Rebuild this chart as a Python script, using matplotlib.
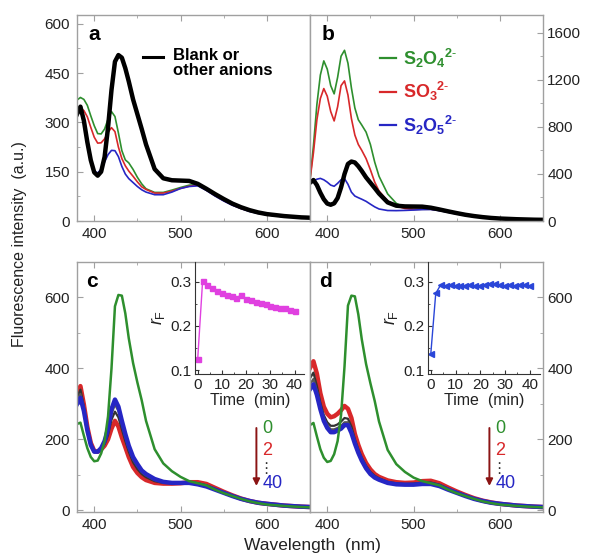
import numpy as np
import matplotlib
matplotlib.use('Agg')
import matplotlib.pyplot as plt
from matplotlib.ticker import MultipleLocator

plt.rcParams['font.family'] = ['Liberation Sans', 'DejaVu Sans']
plt.rcParams['mathtext.fontset'] = 'custom'
plt.rcParams['mathtext.rm'] = 'Liberation Sans'
plt.rcParams['mathtext.it'] = 'Liberation Sans:italic'
plt.rcParams['mathtext.bf'] = 'Liberation Sans:bold'

# longitudes de onda (nm) comunes a todos los espectros
wl = [380, 384, 388, 392, 396, 400, 404, 408, 412, 416, 420, 424, 428, 432, 436, 440,
      445, 450, 455, 460, 470, 480, 490, 500, 510, 520, 530, 540, 550, 560, 570, 580,
      590, 600, 620, 640, 650]

# panel a / b : blanco (otros aniones)
blanco = [325, 348, 305, 240, 185, 148, 138, 150, 195, 285, 399, 485, 505, 497, 465, 425,
          370, 325, 280, 233, 158, 130, 124, 123, 122, 113, 98, 82, 67, 53, 42, 33,
          26, 21, 15, 11, 10]
# panel a
verde_a = [368, 376, 370, 352, 320, 290, 266, 265, 280, 310, 333, 318, 268, 214, 186, 177,
           157, 133, 113, 98, 87, 87, 94, 102, 109, 111, 95, 78, 63, 50, 39, 30,
           24, 19, 13, 10, 9]
rojo_a = [338, 343, 336, 317, 285, 255, 237, 238, 250, 270, 284, 272, 225, 190, 168, 152,
          136, 119, 104, 96, 85, 85, 91, 99, 106, 109, 94, 77, 62, 49, 38, 30,
          24, 19, 13, 10, 9]
azul_a = [330, 338, 300, 235, 185, 152, 146, 158, 180, 202, 215, 214, 196, 166, 143, 129,
          117, 105, 95, 88, 80, 80, 88, 99, 105, 107, 93, 76, 61, 48, 38, 29,
          23, 19, 13, 10, 9]
# panel b
verde_b = [348, 640, 990, 1240, 1360, 1290, 1150, 1080, 1220, 1400, 1450, 1340, 1130, 960, 860, 815,
           755, 650, 500, 380, 230, 150, 113, 99, 100, 100, 90, 76, 62, 49, 38, 30,
           24, 19, 13, 10, 9]
rojo_b = [348, 580, 860, 1040, 1125, 1060, 930, 850, 970, 1150, 1190, 1070, 870, 730, 650, 600,
          530, 435, 330, 255, 170, 128, 106, 99, 100, 100, 90, 76, 62, 49, 38, 30,
          24, 19, 13, 10, 9]
azul_b = [320, 340, 355, 362, 350, 330, 305, 295, 320, 350, 360, 312, 245, 212, 198, 185,
          167, 143, 120, 102, 89, 88, 90, 93, 97, 98, 88, 74, 60, 48, 37, 29,
          23, 18, 13, 10, 9]
# panel c (0, 2, ..., 40 min)
verde_c = [243, 247, 210, 175, 150, 138, 140, 160, 195, 265, 400, 575, 607, 605, 555, 485,
           415, 360, 310, 252, 172, 132, 110, 94, 82, 76, 70, 58, 48, 40, 32, 25,
           20, 16, 12, 9, 8]
rojo_c = [327, 350, 298, 235, 190, 167, 165, 171, 182, 200, 230, 252, 236, 205, 178, 150,
          122, 105, 93, 85, 77, 75, 75, 76, 79, 79, 74, 63, 52, 42, 33, 26,
          21, 18, 13, 10, 9]
negro_c1 = [318, 340, 292, 232, 188, 166, 165, 172, 186, 212, 255, 278, 262, 228, 195, 165,
            135, 116, 102, 93, 82, 77, 76, 76, 78, 76, 70, 60, 50, 41, 33, 26,
            21, 18, 13, 10, 9]
negro_c2 = [305, 328, 285, 228, 186, 165, 165, 174, 191, 222, 272, 298, 280, 242, 206, 174,
            143, 124, 108, 98, 85, 78, 77, 77, 77, 74, 68, 59, 49, 40, 32, 26,
            21, 18, 13, 10, 9]
azul_c = [299, 317, 280, 225, 184, 165, 165, 175, 195, 230, 285, 312, 292, 252, 215, 182,
          150, 130, 112, 102, 88, 80, 77, 77, 77, 73, 67, 58, 49, 40, 32, 26,
          21, 18, 13, 10, 9]
# panel d
verde_d = [240, 246, 208, 172, 148, 136, 139, 158, 195, 268, 405, 577, 605, 603, 552, 482,
           412, 358, 308, 250, 170, 130, 108, 92, 82, 76, 70, 58, 48, 40, 32, 25,
           20, 16, 12, 9, 8]
rojo_d = [401, 420, 385, 330, 292, 272, 262, 265, 272, 282, 294, 286, 260, 215, 184, 158,
          133, 115, 102, 94, 84, 79, 77, 78, 82, 83, 76, 64, 53, 43, 34, 27,
          22, 18, 13, 10, 9]
negro_d1 = [372, 388, 350, 303, 268, 248, 238, 238, 242, 250, 260, 258, 236, 200, 172, 148,
            125, 108, 97, 90, 80, 76, 74, 75, 78, 78, 72, 61, 51, 41, 33, 26,
            21, 18, 13, 10, 9]
negro_d2 = [355, 370, 337, 293, 260, 240, 228, 228, 232, 238, 248, 248, 226, 193, 166, 143,
            121, 105, 94, 88, 78, 74, 73, 73, 76, 76, 70, 59, 50, 40, 32, 26,
            21, 18, 13, 10, 9]
azul_d = [341, 355, 325, 285, 252, 232, 220, 220, 225, 230, 240, 240, 218, 188, 162, 140,
          118, 102, 92, 86, 77, 73, 72, 72, 74, 74, 68, 58, 49, 40, 32, 26,
          21, 18, 13, 10, 9]

# insertos: r_F vs tiempo
tiempo = [0, 2, 4, 6, 8, 10, 12, 14, 16, 18, 20, 22, 24, 26, 28, 30, 32, 34, 36, 38, 40]
rf_c = [0.126, 0.301, 0.292, 0.286, 0.279, 0.274, 0.270, 0.268, 0.264, 0.270, 0.262,
        0.258, 0.255, 0.252, 0.249, 0.246, 0.243, 0.241, 0.240, 0.237, 0.234]
rf_d = [0.137, 0.274, 0.293, 0.291, 0.292, 0.291, 0.290, 0.291, 0.292, 0.290, 0.291,
        0.293, 0.294, 0.295, 0.292, 0.291, 0.292, 0.291, 0.292, 0.293, 0.290]

VERDE = '#2e8f2e'
ROJO = '#d8282a'
AZUL = '#2626c4'
GRIS = '#a0a0a0'
TXT = '#222222'

fig = plt.figure(figsize=(5.89, 5.55), dpi=100)
ax_a = fig.add_axes([0.1307, 0.6018, 0.3956, 0.3712])
ax_b = fig.add_axes([0.5263, 0.6018, 0.3956, 0.3712])
ax_c = fig.add_axes([0.1307, 0.0775, 0.3956, 0.4505])
ax_d = fig.add_axes([0.5263, 0.0775, 0.3956, 0.4505])


def estilo(ax, ylim, mayor, menor, derecha=False):
    ax.set_xlim(380, 650)
    ax.set_ylim(*ylim)
    ax.xaxis.set_major_locator(MultipleLocator(100))
    ax.xaxis.set_minor_locator(MultipleLocator(50))
    ax.yaxis.set_major_locator(MultipleLocator(mayor))
    ax.yaxis.set_minor_locator(MultipleLocator(menor))
    ax.tick_params(which='both', direction='in', top=True, bottom=True,
                   color=GRIS, labelcolor=TXT, labelsize=11, pad=4)
    ax.tick_params(which='major', length=4)
    ax.tick_params(which='minor', length=2.5)
    if derecha:
        ax.tick_params(axis='y', which='both', left=False, right=True,
                       labelleft=False, labelright=True, pad=3)
    else:
        ax.tick_params(axis='y', which='both', left=True, right=False, pad=5)
    for s in ax.spines.values():
        s.set_color(GRIS)
        s.set_linewidth(1)


# a
ax_a.plot(wl, verde_a, color=VERDE, lw=1.2)
ax_a.plot(wl, rojo_a, color=ROJO, lw=1.2)
ax_a.plot(wl, azul_a, color=AZUL, lw=1.2)
ax_a.plot(wl, blanco, color='black', lw=3.2)
estilo(ax_a, (0, 627), 150, 75)
ax_a.text(0.05, 0.95, 'a', transform=ax_a.transAxes, fontsize=15, fontweight='bold', va='top')
ax_a.plot([0.285, 0.37], [0.795, 0.795], transform=ax_a.transAxes, color='black', lw=2.2)
ax_a.text(0.412, 0.84, 'Blank or\nother anions', transform=ax_a.transAxes,
          fontsize=12, fontweight='bold', va='top', linespacing=1.0, ha='left')

# b
ax_b.plot(wl, verde_b, color=VERDE, lw=1.2)
ax_b.plot(wl, rojo_b, color=ROJO, lw=1.2)
ax_b.plot(wl, azul_b, color=AZUL, lw=1.2)
ax_b.plot(wl, blanco, color='black', lw=3.2)
estilo(ax_b, (0, 1750), 400, 200, derecha=True)
ax_b.text(0.05, 0.95, 'b', transform=ax_b.transAxes, fontsize=15, fontweight='bold', va='top')
etiquetas_b = [r'$\mathbf{S_2O_4}{}^{\mathbf{2}\text{-}}$',
               r'$\mathbf{SO_3}{}^{\mathbf{2}\text{-}}$',
               r'$\mathbf{S_2O_5}{}^{\mathbf{2}\text{-}}$']
for i, (lab, col) in enumerate(zip(etiquetas_b, [VERDE, ROJO, AZUL])):
    yy = 0.79 - i * 0.162
    ax_b.plot([0.30, 0.37], [yy, yy], transform=ax_b.transAxes, color=col, lw=1.6)
    ax_b.text(0.40, yy, lab, transform=ax_b.transAxes, color=col, fontsize=13, va='center')

# c y d
for ax, v, r, k1, k2, b, letra in [(ax_c, verde_c, rojo_c, negro_c1, negro_c2, azul_c, 'c'),
                                     (ax_d, verde_d, rojo_d, negro_d1, negro_d2, azul_d, 'd')]:
    ax.plot(wl, r, color=ROJO, lw=3.2)
    ax.plot(wl, k1, color='#333333', lw=1.6)
    ax.plot(wl, k2, color='#555555', lw=1.6)
    ax.plot(wl, b, color=AZUL, lw=3.2)
    ax.plot(wl, v, color=VERDE, lw=1.8)
    ax.text(0.04, 0.96, letra, transform=ax.transAxes, fontsize=15, fontweight='bold', va='top')
    ax.annotate('', xy=(0.77, 0.093), xytext=(0.77, 0.347), xycoords='axes fraction',
                arrowprops=dict(arrowstyle='-|>', color='#8b1414', lw=1.4, mutation_scale=10))
    ax.text(0.795, 0.333, '0', transform=ax.transAxes, color=VERDE, fontsize=13, va='center')
    ax.text(0.795, 0.247, '2', transform=ax.transAxes, color=ROJO, fontsize=13, va='center')
    ax.text(0.81, 0.175, '\u22ee', transform=ax.transAxes, color='#333333', fontsize=11,
            va='center', ha='center', family='DejaVu Sans')
    ax.text(0.795, 0.113, '40', transform=ax.transAxes, color=AZUL, fontsize=13, va='center')

estilo(ax_c, (-5, 700), 200, 100)
estilo(ax_d, (-5, 700), 200, 100, derecha=True)

# insertos
ins_c = fig.add_axes([0.3316, 0.3267, 0.185, 0.2013])
ins_d = fig.add_axes([0.7272, 0.3267, 0.189, 0.2013])
ins_c.plot(tiempo, rf_c, color='#e040e0', marker='s', ms=3.6, lw=1)
ins_d.plot(tiempo, rf_d, color='#2a46d8', marker='<', ms=4.5, lw=1)
for ins in (ins_c, ins_d):
    ins.patch.set_alpha(0)
    ins.set_xlim(-1, 44)
    ins.set_ylim(0.092, 0.345)
    ins.xaxis.set_major_locator(MultipleLocator(10))
    ins.xaxis.set_minor_locator(MultipleLocator(5))
    ins.yaxis.set_major_locator(MultipleLocator(0.1))
    ins.yaxis.set_minor_locator(MultipleLocator(0.05))
    ins.tick_params(which='both', direction='in', color='#333333', labelcolor=TXT,
                    labelsize=11, pad=3)
    ins.tick_params(which='major', length=3)
    ins.tick_params(which='minor', length=1.5)
    ins.spines['top'].set_visible(False)
    ins.spines['right'].set_visible(False)
    ins.spines['left'].set_color('#333333')
    ins.spines['bottom'].set_color('#333333')
    ins.set_yticks([0.1, 0.2, 0.3])
    ins.set_yticklabels(['0.1', '0.2', '0.3'])
    ins.set_xlabel('Time  (min)', fontsize=11.5, color=TXT, labelpad=1)
    ins.set_ylabel(r'$r_\mathrm{F}$', fontsize=13, color=TXT, labelpad=2)

fig.text(0.033, 0.56, 'Fluorescence intensity  (a.u.)', rotation=90, fontsize=11.5,
         color=TXT, ha='center', va='center')
fig.text(0.53, 0.018, 'Wavelength  (nm)', fontsize=12.5, color=TXT, ha='center', va='center')

fig.savefig('out.png', dpi=100)
